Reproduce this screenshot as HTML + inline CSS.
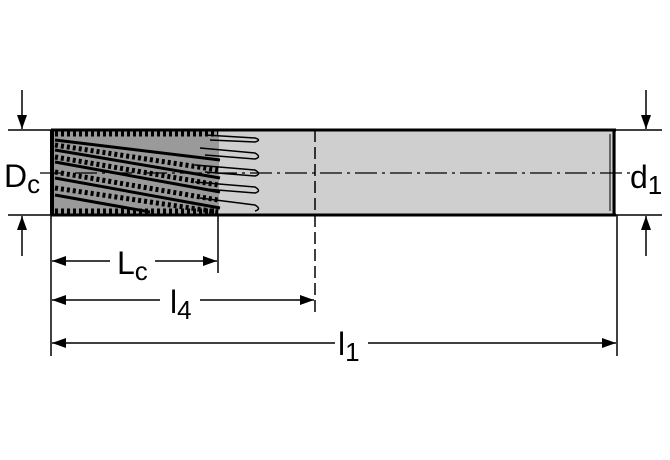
<!DOCTYPE html>
<html><head><style>body{margin:0;background:#fff}svg{display:block}</style></head><body>
<svg width="670" height="460" viewBox="0 0 670 460" xmlns="http://www.w3.org/2000/svg" font-family="Liberation Sans, sans-serif">
<defs><marker id="b" markerWidth="14" markerHeight="10" refX="14" refY="5" orient="auto" markerUnits="userSpaceOnUse"><path d="M0,0 L14,5 L0,10 z" fill="#000"/></marker></defs>
<rect x="51" y="130" width="565" height="85" fill="#cfcfcf"/>
<rect x="51" y="130" width="168" height="85" fill="#9a9a9a"/>
<line x1="51" y1="130" x2="616" y2="130" stroke="#000" stroke-width="3"/>
<line x1="51" y1="215" x2="616" y2="215" stroke="#000" stroke-width="3"/>
<line x1="52" y1="130" x2="52" y2="215" stroke="#000" stroke-width="4"/>
<line x1="614" y1="131" x2="614" y2="214" stroke="#000" stroke-width="3"/>
<line x1="610" y1="134" x2="610" y2="211" stroke="#000" stroke-width="1"/>
<g stroke="#000" fill="none" stroke-width="1.5">
<path d="M205,135 L255,138 Q262,140 255,142 L210,140"/>
<path d="M200,148 L255,153 Q262,157 255,159 L205,155"/>
<path d="M195,165 L255,170 Q262,174 255,176 L205,172"/>
<path d="M195,182 L255,187 Q262,191 255,193 L205,189"/>
<path d="M200,198 L255,205 Q262,209 255,211"/>
</g>
<g stroke="#000" fill="none" stroke-width="3">
<path d="M55,150 L220,178"/><path d="M55,162 L220,192"/><path d="M55,178 L220,208"/><path d="M55,140 L220,160"/><path d="M55,195 L150,212"/>
</g>
<g stroke="#000" fill="none" stroke-width="5" stroke-dasharray="3 3">
<path d="M55,145 L218,170"/><path d="M55,157 L218,185"/><path d="M55,172 L218,200"/><path d="M55,188 L218,212"/>
<path d="M55,134 L218,134"/><path d="M55,211 L218,211"/>
</g>
<line x1="40" y1="173" x2="630" y2="173" stroke="#000" stroke-width="1.2" stroke-dasharray="22 5 3 5"/>
<line x1="315" y1="130" x2="315" y2="313" stroke="#000" stroke-width="1.5" stroke-dasharray="12 5"/>
<g stroke="#000" stroke-width="1.5">
<line x1="8" y1="130" x2="51" y2="130"/><line x1="8" y1="215" x2="51" y2="215"/>
<line x1="616" y1="130" x2="662" y2="130"/><line x1="616" y1="215" x2="662" y2="215"/>
<line x1="51" y1="215" x2="51" y2="356"/><line x1="617" y1="215" x2="617" y2="356"/>
<line x1="218" y1="215" x2="218" y2="273"/>
<line x1="22" y1="90" x2="22" y2="129" marker-end="url(#b)"/>
<line x1="22" y1="256" x2="22" y2="216" marker-end="url(#b)"/>
<line x1="646" y1="90" x2="646" y2="129" marker-end="url(#b)"/>
<line x1="646" y1="256" x2="646" y2="216" marker-end="url(#b)"/>
<line x1="110" y1="261" x2="52" y2="261" marker-end="url(#b)"/><line x1="155" y1="261" x2="217" y2="261" marker-end="url(#b)"/>
<line x1="160" y1="300" x2="52" y2="300" marker-end="url(#b)"/><line x1="200" y1="300" x2="314" y2="300" marker-end="url(#b)"/>
<line x1="335" y1="343" x2="52" y2="343" marker-end="url(#b)"/><line x1="368" y1="343" x2="616" y2="343" marker-end="url(#b)"/>
</g>
<g font-size="32" fill="#000">
<text x="4" y="187">D<tspan font-size="26" dy="6">c</tspan></text>
<text x="630" y="188">d<tspan font-size="26" dy="6">1</tspan></text>
<text x="117" y="274">L<tspan font-size="26" dy="6">c</tspan></text>
<text x="170" y="313">l<tspan font-size="26" dy="6">4</tspan></text>
<text x="338" y="355">l<tspan font-size="26" dy="6">1</tspan></text>
</g>
</svg>
</body></html>
